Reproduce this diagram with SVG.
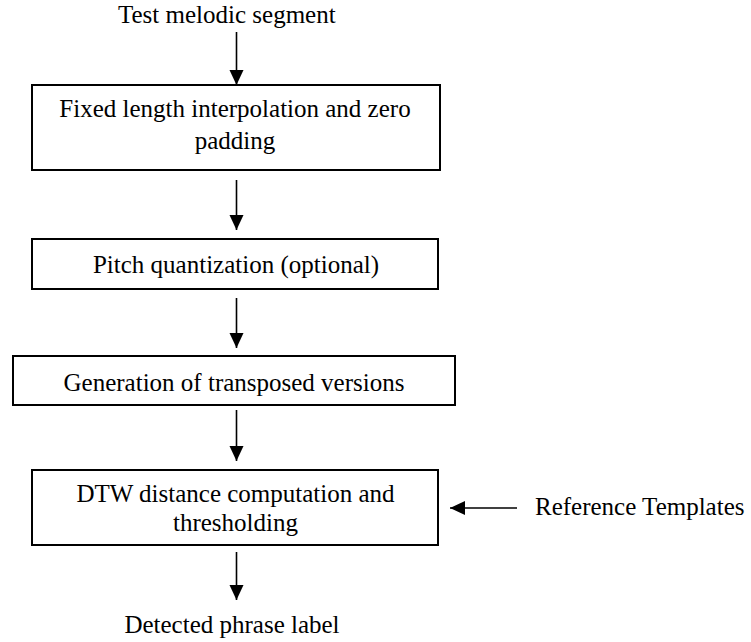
<svg xmlns="http://www.w3.org/2000/svg" width="751" height="642" viewBox="0 0 751 642">
<style>
  text { font-family: "Liberation Serif", "Times New Roman", serif; font-size: 25px; fill: #000; }
  .box { fill: #fff; stroke: #000; stroke-width: 2; }
  .conn { stroke: #000; stroke-width: 1.6; fill: none; }
</style>
<defs>
  <marker id="arr" markerUnits="userSpaceOnUse" markerWidth="16" markerHeight="16" refX="15" refY="7" orient="auto">
    <path d="M0,0 L15,7 L0,14 Z" fill="#000"/>
  </marker>
</defs>
<rect width="751" height="642" fill="#fff"/>
<g id="connectors">
  <line class="conn" x1="236.5" y1="32" x2="236.5" y2="85" marker-end="url(#arr)"/>
  <line class="conn" x1="236.5" y1="180" x2="236.5" y2="230" marker-end="url(#arr)"/>
  <line class="conn" x1="236.5" y1="298" x2="236.5" y2="348" marker-end="url(#arr)"/>
  <line class="conn" x1="236.5" y1="410" x2="236.5" y2="461" marker-end="url(#arr)"/>
  <line class="conn" x1="236.5" y1="552" x2="236.5" y2="600" marker-end="url(#arr)"/>
  <line class="conn" x1="517" y1="508" x2="450" y2="508" marker-end="url(#arr)"/>
</g>
<g id="input">
  <text x="118" y="23">Test melodic segment</text>
</g>
<g id="interp">
  <rect class="box" x="32" y="85" width="408" height="85"/>
  <text x="235" y="117" text-anchor="middle">Fixed length interpolation and zero</text>
  <text x="235" y="149" text-anchor="middle">padding</text>
</g>
<g id="quant">
  <rect class="box" x="32" y="239" width="406" height="50"/>
  <text x="236" y="273" text-anchor="middle">Pitch quantization (optional)</text>
</g>
<g id="transpose">
  <rect class="box" x="13" y="356" width="442" height="49"/>
  <text x="234" y="391" text-anchor="middle">Generation of transposed versions</text>
</g>
<g id="dtw">
  <rect class="box" x="32" y="470" width="406" height="75"/>
  <text x="235.5" y="502" text-anchor="middle">DTW distance computation and</text>
  <text x="235.5" y="531" text-anchor="middle">thresholding</text>
</g>
<g id="templates">
  <text x="535" y="515">Reference Templates</text>
</g>
<g id="output">
  <text x="232" y="633" text-anchor="middle">Detected phrase label</text>
</g>
</svg>
